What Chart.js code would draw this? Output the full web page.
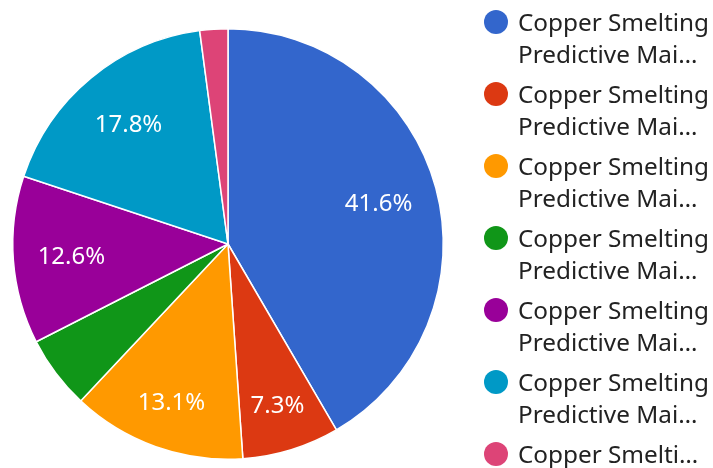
<!DOCTYPE html>
<html>
<head>
<meta charset="utf-8">
<script src="https://cdn.jsdelivr.net/npm/chart.js@4"></script>
<style>
  body { margin: 0; background: #fff; font-family: "Noto Sans", sans-serif; }
  #wrap { position: relative; width: 713px; height: 468px; overflow: hidden; }
  #legend { position: absolute; left: 484px; top: 6px; width: 229px; }
  .item { position: relative; padding-left: 34px; margin-bottom: 8px; color: #222; font-size: 24.3px; line-height: 32px; white-space: nowrap; }
  .dot { position: absolute; left: 0; top: 4px; width: 24px; height: 24px; border-radius: 50%; }
</style>
</head>
<body>
<div id="wrap">
  <canvas id="myChart" width="713" height="468"></canvas>
  <div id="legend"></div>
</div>
<script>
// categories, as shown (truncated) in the legend
const labels = [
  ["Copper Smelting", "Predictive Mai…"],
  ["Copper Smelting", "Predictive Mai…"],
  ["Copper Smelting", "Predictive Mai…"],
  ["Copper Smelting", "Predictive Mai…"],
  ["Copper Smelting", "Predictive Mai…"],
  ["Copper Smelting", "Predictive Mai…"],
  ["Copper Smelti…"],
];
// share of each slice, percent
const values = [41.6, 7.3, 13.1, 5.5, 12.6, 17.8, 2.1];
const colors = ["#3366cc", "#dc3912", "#ff9900", "#109618", "#990099", "#0099c6", "#dd4477"];

// percent labels inside the slices
const sliceText = {
  id: "sliceText",
  afterDatasetsDraw(chart) {
    const ctx = chart.ctx;
    const meta = chart.getDatasetMeta(0);
    const total = values.reduce((a, b) => a + b, 0);
    ctx.save();
    ctx.fillStyle = "#fff";
    ctx.font = '24px "Noto Sans"';
    ctx.textAlign = "center";
    ctx.textBaseline = "middle";
    meta.data.forEach((arc, i) => {
      const pct = (values[i] / total) * 100;
      if (pct < 6) return;
      const { x, y, startAngle, endAngle, outerRadius } = arc.getProps(
        ["x", "y", "startAngle", "endAngle", "outerRadius"], true);
      const mid = (startAngle + endAngle) / 2;
      // labels in the lower half sit a bit further out
      const r = outerRadius * (0.725 + 0.06 * Math.max(0, Math.sin(mid)));
      ctx.fillText(pct.toFixed(1) + "%", x + Math.cos(mid) * r, y + Math.sin(mid) * r + 1);
    });
    ctx.restore();
  },
};

const ctx = document.getElementById("myChart");
new Chart(ctx, {
  type: "pie",
  data: {
    labels: labels.map((l) => l.join(" ")),
    datasets: [
      {
        data: values,
        backgroundColor: colors,
        borderColor: "#fff",
        borderWidth: 1.5,
      },
    ],
  },
  options: {
    responsive: false,
    animation: false,
    layout: { padding: { left: 12, top: 28, right: 269, bottom: 8 } },
    plugins: {
      legend: { display: false },
      tooltip: { enabled: false },
    },
  },
  plugins: [sliceText],
});

// legend on the right
const legend = document.getElementById("legend");
labels.forEach((lines, i) => {
  const item = document.createElement("div");
  item.className = "item";
  item.innerHTML =
    '<span class="dot" style="background:' + colors[i] + '"></span>' + lines.join("<br>");
  legend.appendChild(item);
});
</script>
</body>
</html>
